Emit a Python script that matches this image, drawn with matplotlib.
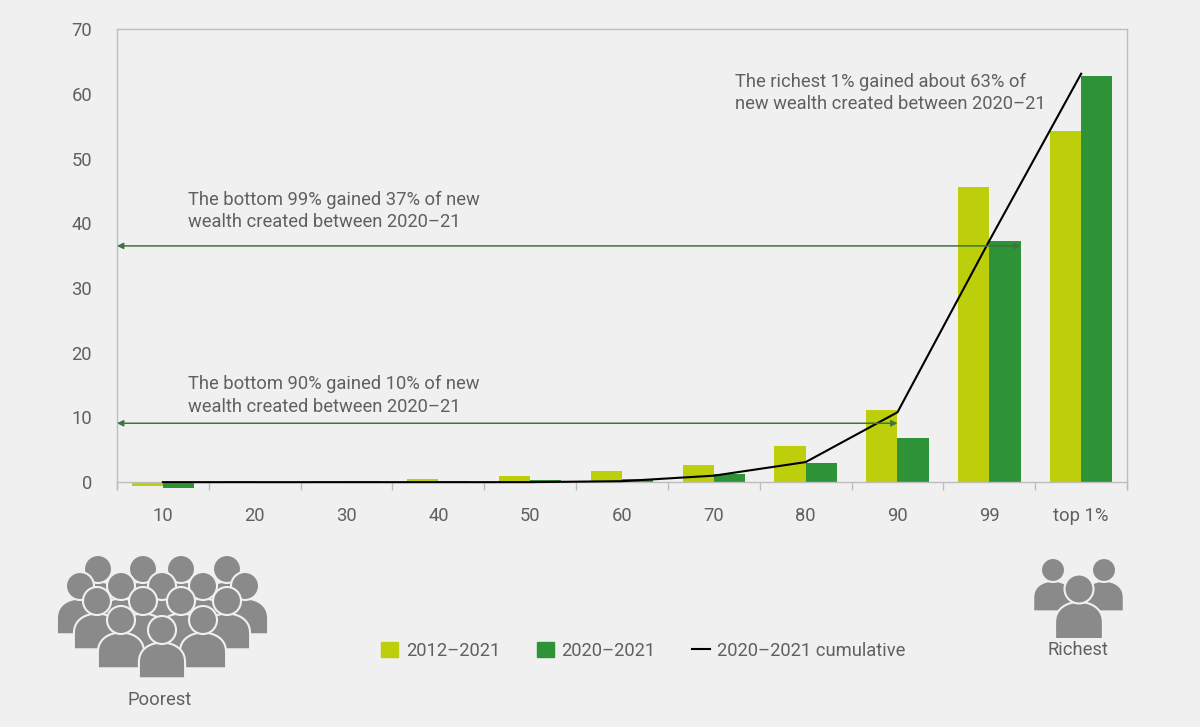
import matplotlib.pyplot as plt
import numpy as np
from matplotlib.patches import Circle, Polygon
from matplotlib.lines import Line2D
from matplotlib.patches import Patch

# Wealth gain by wealth group (%)
groups = ['10', '20', '30', '40', '50', '60', '70', '80', '90', '99', 'top 1%']
gain_2012_2021 = [-0.6, 0.25, 0.25, 0.5, 0.9, 1.7, 2.7, 5.6, 11.1, 45.6, 54.2]
gain_2020_2021 = [-0.9, -0.1, 0.25, 0.25, 0.3, 0.55, 1.2, 2.9, 6.75, 37.2, 62.8]
cumulative_2020_2021 = [0, 0, 0, 0, 0, 0.15, 1.0, 3.1, 10.8, 37.3, 63.1]

bg = '#f0f0f0'
c_light = '#bccf0a'
c_dark = '#2e9336'
c_arrow = '#3f7340'
c_text = '#606060'
c_spine = '#bdbdbd'
c_icon = '#8a8a8a'
fs = 13.2

plt.rcParams['font.family'] = ['Roboto', 'DejaVu Sans']
plt.rcParams['font.size'] = fs

fig = plt.figure(figsize=(12, 7.27), dpi=100, facecolor=bg)
ax = fig.add_axes([0.0975, 0.327, 0.8417, 0.633], facecolor=bg)

x = np.arange(len(groups))
w = 0.34
ax.bar(x - w / 2, gain_2012_2021, w, color=c_light, label='2012–2021', zorder=2)
ax.bar(x + w / 2, gain_2020_2021, w, color=c_dark, label='2020–2021', zorder=2)
ax.plot(x, cumulative_2020_2021, color='black', lw=1.5, label='2020–2021 cumulative', zorder=3)

ax.set_xlim(-0.5, len(groups) - 0.5)
ax.set_ylim(-1.1, 70)
ax.set_yticks(range(0, 71, 10))
ax.set_xticks(x)
ax.set_xticklabels(groups)
ax.set_xticks(np.arange(-0.5, len(groups), 1), minor=True)
ax.tick_params(axis='x', which='major', length=0, pad=18, colors=c_text, labelsize=fs)
ax.tick_params(axis='x', which='minor', length=5.5, width=1, color=c_spine)
ax.tick_params(axis='y', length=0, pad=18, colors=c_text, labelsize=fs)
for s in ax.spines.values():
    s.set_color(c_spine)
    s.set_linewidth(1)
ax.spines['bottom'].set_position(('data', 0))

# annotations
arrow_kw = dict(arrowstyle='<|-|>', color=c_arrow, lw=1.1, mutation_scale=9,
                shrinkA=0, shrinkB=0)
ax.annotate('', xy=(-0.5, 36.5), xytext=(9.34, 36.5), arrowprops=arrow_kw, zorder=4)
ax.annotate('', xy=(-0.5, 9.1), xytext=(8.0, 9.1), arrowprops=arrow_kw, zorder=4)
ax.text(0.273, 41.9, 'The bottom 99% gained 37% of new\nwealth created between 2020–21',
        va='center', ha='left', color=c_text, linespacing=1.32)
ax.text(0.273, 13.4, 'The bottom 90% gained 10% of new\nwealth created between 2020–21',
        va='center', ha='left', color=c_text, linespacing=1.32)
ax.text(6.23, 60.1, 'The richest 1% gained about 63% of\nnew wealth created between 2020–21',
        va='center', ha='left', color=c_text, linespacing=1.32)

# legend
handles = [Patch(color=c_light), Patch(color=c_dark), Line2D([], [], color='black', lw=1.5)]
labels = ['2012–2021', '2020–2021', '2020–2021 cumulative']
fig.legend(handles, labels, loc='center', bbox_to_anchor=(0.536, 0.105), ncol=3,
           frameon=False, handlelength=0.95, handleheight=0.95, handletextpad=0.4,
           columnspacing=2.0, labelcolor=c_text, fontsize=fs)

# people icons, drawn in figure pixel coordinates
ic = fig.add_axes([0, 0, 1, 1])
ic.set_xlim(0, 1200)
ic.set_ylim(727, 0)
ic.axis('off')
ic.patch.set_alpha(0)


def person(cx, cy, r):
    hw = 1.65 * r
    top = cy + 0.9 * r
    dome = 1.5 * r
    bottom = cy + 3.45 * r
    t = np.linspace(0, np.pi, 50)
    xs = cx + hw * np.cos(t)
    ys = top + dome * (1 - np.sin(t) ** 0.8)
    pts = np.column_stack([np.r_[xs, cx - hw, cx + hw], np.r_[ys, bottom, bottom]])
    ic.add_patch(Polygon(pts, closed=True, fc=c_icon, ec=bg, lw=1.5))
    ic.add_patch(Circle((cx, cy), r, fc=c_icon, ec=bg, lw=1.5))


crowd = [([98, 143, 181, 227], 569),
         ([80, 121, 162, 203, 245], 586),
         ([97, 143, 181, 227], 601),
         ([121, 203], 620),
         ([162], 630)]
for xs_row, cy in crowd:
    for cx in xs_row:
        person(cx, cy, 14)

person(1053, 570, 12)
person(1104, 570, 12)
person(1079, 589, 14.5)

ic.text(160, 700, 'Poorest', ha='center', va='center', color=c_text)
ic.text(1078, 650, 'Richest', ha='center', va='center', color=c_text)

fig.savefig('out.png', dpi=100, facecolor=bg)
